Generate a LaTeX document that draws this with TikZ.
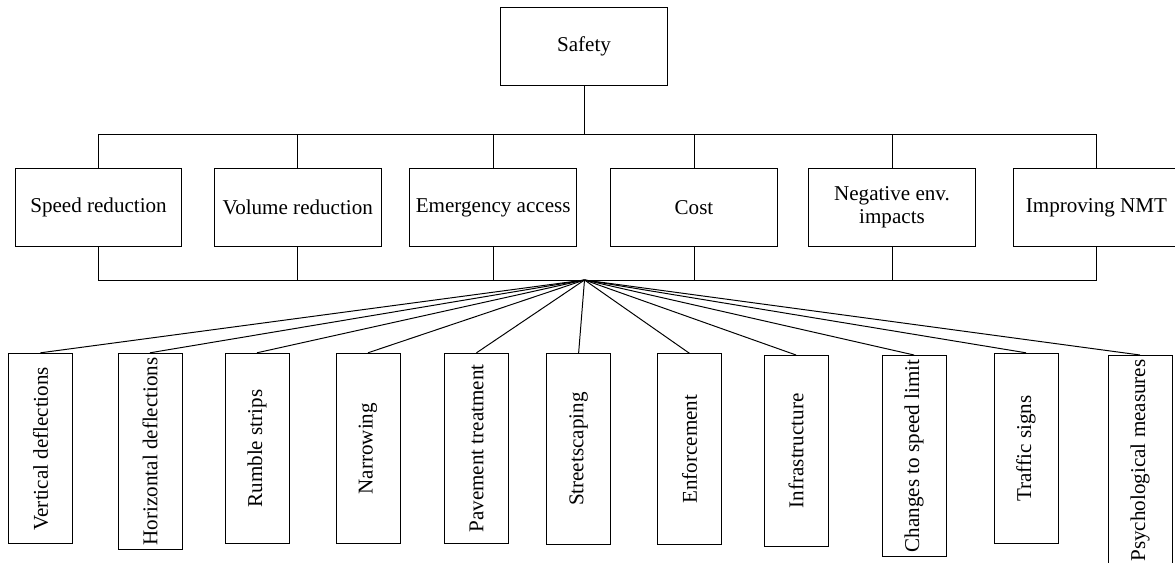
\documentclass[tikz,border=0pt]{standalone}
\usepackage{fontspec}
\setmainfont{Liberation Serif}
\usepackage{tikz}

\tikzset{
    box/.style={draw, line width=0.7pt, minimum width=4.17cm, minimum height=1.96cm, inner sep=2pt, align=center, font=\fontsize{15}{16}\selectfont},
    vbox/.style={draw, line width=0.7pt, rotate=90, anchor=east, minimum width=4.765cm, minimum height=1.6cm, inner sep=0.1cm, font=\fontsize{15}{16}\selectfont},
    link/.style={line width=0.7pt}
}

\begin{document}
\begin{tikzpicture}
    \useasboundingbox (0,0) rectangle (29.375,14.05);
    \node [box] (safety) at (14.6,12.8925) {Safety};
    \coordinate (topbar) at (14.6,10.7);
    \coordinate (hub) at (14.6125,7.05);
    \draw [link] (safety.south)--(topbar);
    % criteria
    \foreach \x/\i/\t in {2.4625/1/Speed reduction, 7.445/2/Volume reduction, 12.33/3/Emergency access, 17.35/4/Cost, 22.3/5/{Negative env.\\impacts}, 27.41/6/Improving NMT}{
        \node [box] (c\i) at (\x,8.8625) {\t};
        \draw [link] (c\i.north) |- (topbar);
        \draw [link] (c\i.south) |- (hub);
    }
    % measures
    \foreach \x/\y/\j/\t in {1.0125/5.23/1/Vertical deflections, 3.75/5.23/2/Horizontal deflections, 6.425/5.23/3/Rumble strips, 9.2/5.23/4/Narrowing, 11.9125/5.23/5/Pavement treatment, 14.465/5.215/6/Streetscaping, 17.24/5.215/7/Enforcement, 19.9/5.175/8/Infrastructure, 22.85/5.175/9/Changes to speed limit, 25.65/5.23/10/Traffic signs, 28.5/5.175/11/Psychological measures}{
        \node [vbox] (m\j) at (\x,\y) {\t};
        \draw [link] (hub)--(m\j.east);
    }

\end{tikzpicture}
\end{document}
